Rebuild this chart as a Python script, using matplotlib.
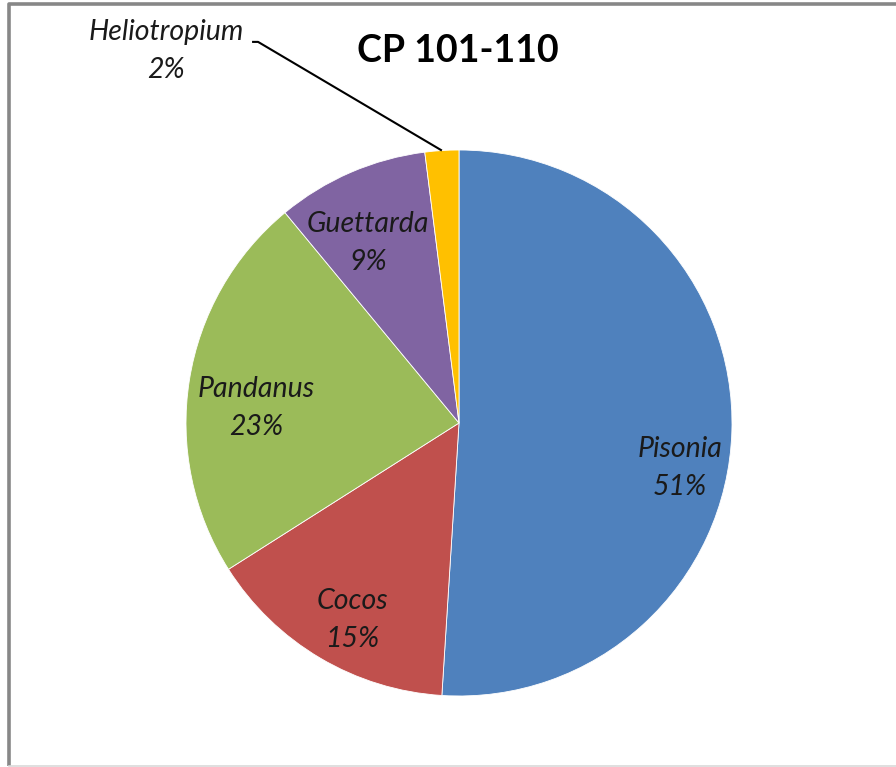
import matplotlib
matplotlib.use("Agg")
import matplotlib.pyplot as plt
import numpy as np

# Species share of plot CP 101-110
species = ["Pisonia", "Cocos", "Pandanus", "Guettarda", "Heliotropium"]
percent = [51, 15, 23, 9, 2]
colors = ["#4F81BD", "#C0504D", "#9BBB59", "#8064A2", "#FFC000"]
title = "CP 101-110"

W, H = 896, 767
fig = plt.figure(figsize=(W / 100, H / 100), dpi=100)
fig.patch.set_facecolor("white")

# chart frame (cut off on the right)
frame = fig.add_axes([0, 0, 1, 1])
frame.set_xlim(0, W)
frame.set_ylim(H, 0)
frame.axis("off")
frame.plot([9, 9, W + 5], [H - 1, 4, 4], color="#878787", lw=2.6, solid_capstyle="butt")
frame.plot([9, W], [H - 1, H - 1], color="#d9d9d9", lw=1.2)

# pie axes: centre (459, 423), radius 273 px
cx, cy, r = 459, 423, 273
ax = fig.add_axes([(cx - r) / W, (H - cy - r) / H, 2 * r / W, 2 * r / H])

wedges, _ = ax.pie(percent, colors=colors, startangle=90, counterclock=False,
                   radius=1, wedgeprops=dict(edgecolor="white", linewidth=0.6))
ax.set_xlim(-1, 1)
ax.set_ylim(-1, 1)
ax.set_aspect("equal")
ax.axis("off")

font = ["Lato", "DejaVu Sans"]
fs = 20.5
ls = 1.55
label_pos = {
    "Pisonia": (0.81, -0.165),
    "Cocos": (-0.392, -0.722),
    "Pandanus": (-0.744, 0.055),
    "Guettarda": (-0.333, 0.659),
}
for name, pct in zip(species, percent):
    if name in label_pos:
        x, y = label_pos[name]
        ax.text(x, y, f"{name}\n{pct}%", ha="center", va="center", fontsize=fs,
                style="italic", family=font, color="#1a1a1a", linespacing=ls)

# outside label with leader line for the smallest slice
hw = wedges[species.index("Heliotropium")]
mid = np.deg2rad((hw.theta1 + hw.theta2) / 2)
ex, ey = np.cos(mid), np.sin(mid)
ax.plot([-0.758, -0.736, ex], [1.396, 1.396, ey], color="black", lw=1.5,
        clip_on=False, solid_capstyle="butt")
ax.text(-1.073, 1.363, f"Heliotropium\n{percent[-1]}%", ha="center", va="center",
        fontsize=fs, style="italic", family=font, color="#1a1a1a",
        linespacing=ls, clip_on=False)

fig.text(458 / W, 1 - 51 / H, title, ha="center", va="center", fontsize=27,
         weight="bold", family=font, color="black")

fig.savefig("out.png", dpi=100)
